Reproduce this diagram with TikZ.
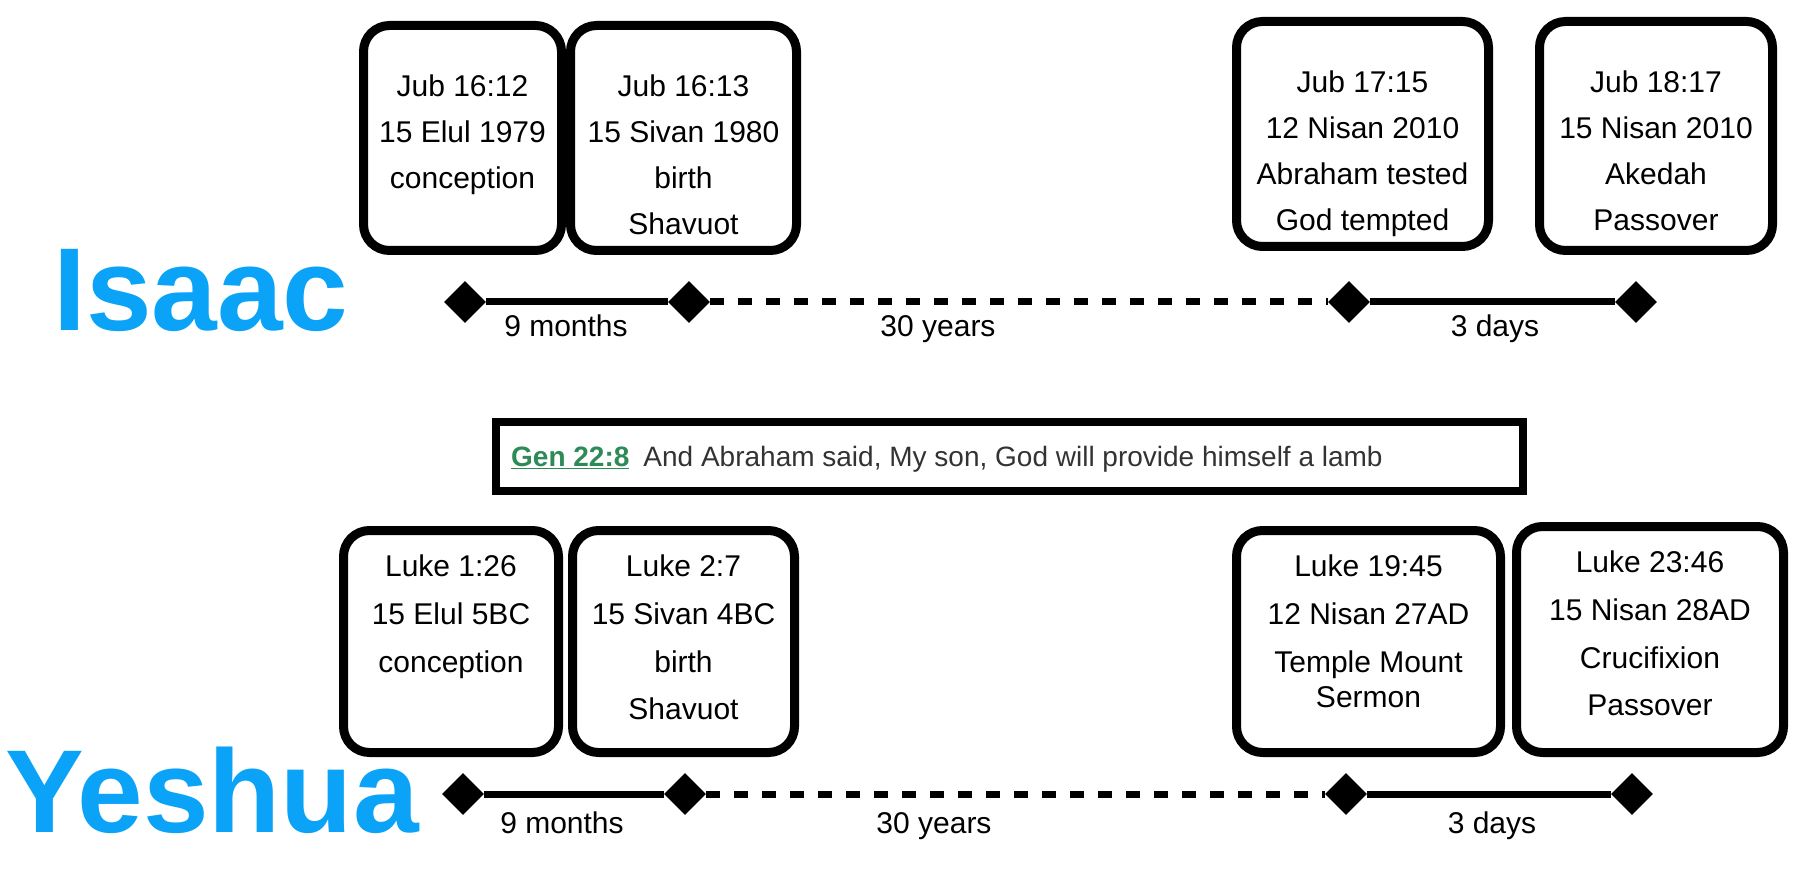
\documentclass[tikz,border=0pt]{standalone}
\usepackage{fontspec}
\setmainfont{Liberation Sans}
\usetikzlibrary{shapes.geometric}
\definecolor{nameblue}{HTML}{0AA3F7}
\definecolor{refgreen}{HTML}{2E8B57}
\definecolor{txtgray}{HTML}{333333}
\begin{document}
\begin{tikzpicture}[x=1pt,y=-1pt,
  box/.style={draw,line width=9pt,rounded corners=26pt,inner sep=0pt},
  t/.style={font=\fontsize{30}{34}\selectfont,inner sep=0pt,anchor=base},
  dia/.style={diamond,fill=black,minimum width=42pt,minimum height=42pt,inner sep=0pt},
  solid line/.style={line width=7pt},
  dash line/.style={line width=7pt,dash pattern=on 14pt off 14pt},
  nm/.style={font=\fontsize{118}{118}\selectfont\bfseries,text=nameblue,inner sep=0pt}]
\useasboundingbox (0,0) rectangle (1800,874);
\fill[white] (0,0) rectangle (1800,874);
% Isaac boxes
\node[box,minimum width=198pt,minimum height=225pt,anchor=north west] (ib1) at (359,21) {};
\node[box,minimum width=226pt,minimum height=225pt,anchor=north west] (ib2) at (566,21) {};
\node[box,minimum width=252pt,minimum height=225pt,anchor=north west] (ib3) at (1232,17) {};
\node[box,minimum width=233pt,minimum height=229pt,anchor=north west] (ib4) at (1535,17) {};
\foreach \n/\a/\b/\c/\d in {ib1/Jub 16:12/15 Elul 1979/conception/,ib2/Jub 16:13/15 Sivan 1980/birth/Shavuot,ib3/Jub 17:15/12 Nisan 2010/Abraham tested/God tempted,ib4/Jub 18:17/15 Nisan 2010/Akedah/Passover}{
  \node[t] (\n-1) at ([yshift=-76pt]\n.north) {\a};
  \node[t] (\n-2) at ([yshift=-122pt]\n.north) {\b};
  \node[t] (\n-3) at ([yshift=-168pt]\n.north) {\c};
  \node[t] (\n-4) at ([yshift=-214pt]\n.north) {\d};
}
\node[nm] (isaac) at (201,290) {Isaac};
\node[dia] (id1) at (465,302) {};
\node[dia] (id2) at (689,302) {};
\node[dia] (id3) at (1349,302) {};
\node[dia] (id4) at (1636,302) {};
\draw[solid line] (id1) -- (id2);
\draw[dash line] (id2) -- (id3);
\draw[solid line] (id3) -- (id4);
\node[t] (il1) at (566,337) {9 months};
\node[t] (il2) at (938,337) {30 years};
\node[t] (il3) at (1495,337) {3 days};
% Gen box
\node[draw,line width=8pt,minimum width=1027pt,minimum height=69pt,inner sep=0pt] (gen) at (1009.5,456.5) {};
\node[inner sep=0pt,font=\fontsize{28}{32}\selectfont,anchor=base west] (gentxt) at (511,467) {\textcolor{refgreen}{\bfseries\underline{Gen 22:8}}\hspace{14pt}\textcolor{txtgray}{And Abraham said, My son, God will provide himself a lamb}};
% Yeshua boxes
\node[box,minimum width=215pt,minimum height=222pt,anchor=north west] (yb1) at (339,526) {};
\node[box,minimum width=222pt,minimum height=222pt,anchor=north west] (yb2) at (568,526) {};
\node[box,minimum width=264pt,minimum height=222pt,anchor=north west] (yb3) at (1232,526) {};
\node[box,minimum width=267pt,minimum height=226pt,anchor=north west] (yb4) at (1512,522) {};
\foreach \n/\a/\b/\c/\d in {yb1/Luke 1:26/15 Elul 5BC/conception/,yb2/Luke 2:7/15 Sivan 4BC/birth/Shavuot,yb4/Luke 23:46/15 Nisan 28AD/Crucifixion/Passover}{
  \node[t] (\n-1) at ([yshift=-50pt]\n.north) {\a};
  \node[t] (\n-2) at ([yshift=-98pt]\n.north) {\b};
  \node[t] (\n-3) at ([yshift=-146pt]\n.north) {\c};
  \node[t] (\n-4) at ([yshift=-193pt]\n.north) {\d};
}
\node[t] (yb3-1) at ([yshift=-50pt]yb3.north) {Luke 19:45};
\node[t] (yb3-2) at ([yshift=-98pt]yb3.north) {12 Nisan 27AD};
\node[t] (yb3-3) at ([yshift=-146pt]yb3.north) {Temple Mount};
\node[t] (yb3-4) at ([yshift=-181pt]yb3.north) {Sermon};
\node[nm] (yeshua) at (212,790) {Yeshua};
\node[dia] (yd1) at (463,794) {};
\node[dia] (yd2) at (685,794) {};
\node[dia] (yd3) at (1346,794) {};
\node[dia] (yd4) at (1632,794) {};
\draw[solid line] (yd1) -- (yd2);
\draw[dash line] (yd2) -- (yd3);
\draw[solid line] (yd3) -- (yd4);
\node[t] (yl1) at (562,833) {9 months};
\node[t] (yl2) at (934,833) {30 years};
\node[t] (yl3) at (1492,833) {3 days};
\end{tikzpicture}
\end{document}
